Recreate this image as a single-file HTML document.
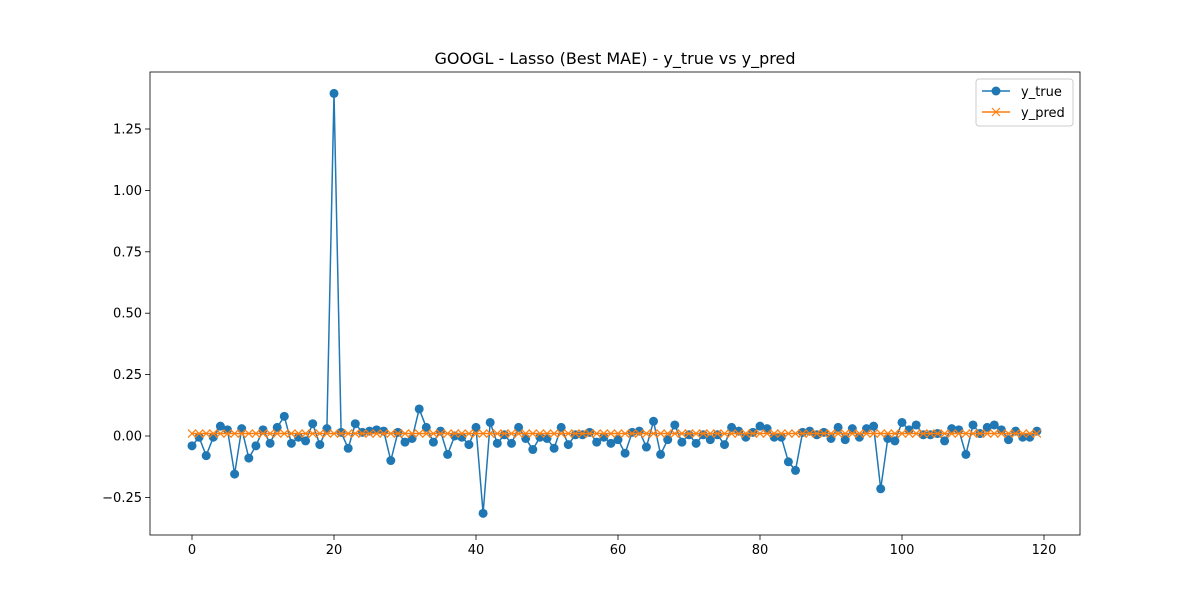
<!DOCTYPE html>
<html><head><meta charset="utf-8"><style>
body{margin:0;background:#fff;font-family:"Liberation Sans","DejaVu Sans",sans-serif}
svg text{font-family:"DejaVu Sans","Liberation Sans",sans-serif}
</style></head><body>
<svg id="chart" width="1200" height="600" xmlns="http://www.w3.org/2000/svg"></svg>
<script>
const yTrue=[-0.04,-0.005,-0.08,-0.005,0.04,0.025,-0.155,0.03,-0.09,-0.04,0.025,-0.03,0.035,0.08,-0.03,-0.005,-0.02,0.05,-0.035,0.03,1.395,0.015,-0.05,0.05,0.015,0.02,0.025,0.02,-0.1,0.015,-0.025,-0.01,0.11,0.035,-0.025,0.02,-0.075,0,-0.005,-0.035,0.035,-0.315,0.055,-0.03,0.005,-0.03,0.035,-0.01,-0.055,-0.005,-0.01,-0.05,0.035,-0.035,0.005,0.005,0.015,-0.025,-0.005,-0.03,-0.015,-0.07,0.015,0.02,-0.045,0.06,-0.075,-0.015,0.045,-0.025,0.005,-0.03,0.005,-0.015,0.005,-0.035,0.035,0.02,-0.005,0.015,0.04,0.03,-0.005,-0.005,-0.105,-0.14,0.015,0.02,0.005,0.015,-0.01,0.035,-0.015,0.03,-0.005,0.03,0.04,-0.215,-0.01,-0.02,0.055,0.025,0.045,0.005,0.005,0.01,-0.02,0.03,0.025,-0.075,0.045,0.01,0.035,0.045,0.025,-0.015,0.02,-0.005,-0.005,0.02];
const yPred=yTrue.map(()=>0.01);
const xTicks=[0,20,40,60,80,100,120];
const yTicks=[-0.25,0,0.25,0.5,0.75,1,1.25];
const yTickLabels=["−0.25","0.00","0.25","0.50","0.75","1.00","1.25"];

const svg=document.getElementById('chart');
const NS="http://www.w3.org/2000/svg";
const L=150,R=1080,T=72,B=535;
const x=v=>192+v*(1044-192)/120;
const y=v=>436-v*(436-129)/1.25;
function mk(tag,attrs,parent){const e=document.createElementNS(NS,tag);for(const k in attrs)e.setAttribute(k,attrs[k]);(parent||svg).appendChild(e);return e;}

const title=mk('text',{x:615,y:64,'text-anchor':'middle','font-size':16,fill:'#000'});


title.textContent='GOOGL - Lasso (Best MAE) - y_true vs y_pred';

const xAxis=mk('g',{});


xTicks.forEach(t=>{
  mk('line',{x1:x(t),x2:x(t),y1:B,y2:B+5,stroke:'#000','stroke-width':0.8},xAxis);
  const tx=mk('text',{x:x(t),y:B+19,'text-anchor':'middle','font-size':13,fill:'#000'},xAxis);
  
  
  tx.textContent=t;
});
const yAxis=mk('g',{});


yTicks.forEach((t,i)=>{
  mk('line',{x1:L-5,x2:L,y1:y(t),y2:y(t),stroke:'#000','stroke-width':0.8},yAxis);
  const tx=mk('text',{x:L-8,y:y(t)+4.5,'text-anchor':'end','font-size':13,fill:'#000'},yAxis);
  
  
  tx.textContent=yTickLabels[i];
});

const gT=mk('g',{});


mk('polyline',{points:yTrue.map((v,i)=>x(i)+','+y(v)).join(' '),fill:'none',stroke:'#1f77b4','stroke-width':1.5},gT);
yTrue.forEach((v,i)=>mk('circle',{cx:x(i),cy:y(v),r:4.5,fill:'#1f77b4'},gT));

const gP=mk('g',{});


mk('polyline',{points:yPred.map((v,i)=>x(i)+','+y(v)).join(' '),fill:'none',stroke:'#ff7f0e','stroke-width':1.5},gP);
yPred.forEach((v,i)=>{const cx=x(i),cy=y(v);mk('path',{d:`M${cx-4},${cy-4}L${cx+4},${cy+4}M${cx-4},${cy+4}L${cx+4},${cy-4}`,stroke:'#ff7f0e','stroke-width':1.2},gP);});

const frame=mk('rect',{x:L,y:T,width:R-L,height:B-T,fill:'none',stroke:'#000','stroke-width':0.8});



const lg=mk('g',{});


mk('rect',{x:976,y:79,width:97,height:47,rx:3,fill:'#fff',stroke:'#ccc','stroke-width':1},lg);
mk('line',{x1:982,x2:1010,y1:91,y2:91,stroke:'#1f77b4','stroke-width':1.5},lg);
mk('circle',{cx:996,cy:91,r:4.5,fill:'#1f77b4'},lg);
const l1=mk('text',{x:1021,y:96,'font-size':13,fill:'#000'},lg);


l1.textContent='y_true';
mk('line',{x1:982,x2:1010,y1:112,y2:112,stroke:'#ff7f0e','stroke-width':1.5},lg);
mk('path',{d:'M992,108L1000,116M992,116L1000,108',stroke:'#ff7f0e','stroke-width':1.2},lg);
const l2=mk('text',{x:1021,y:117,'font-size':13,fill:'#000'},lg);


l2.textContent='y_pred';
</script>
</body></html>
